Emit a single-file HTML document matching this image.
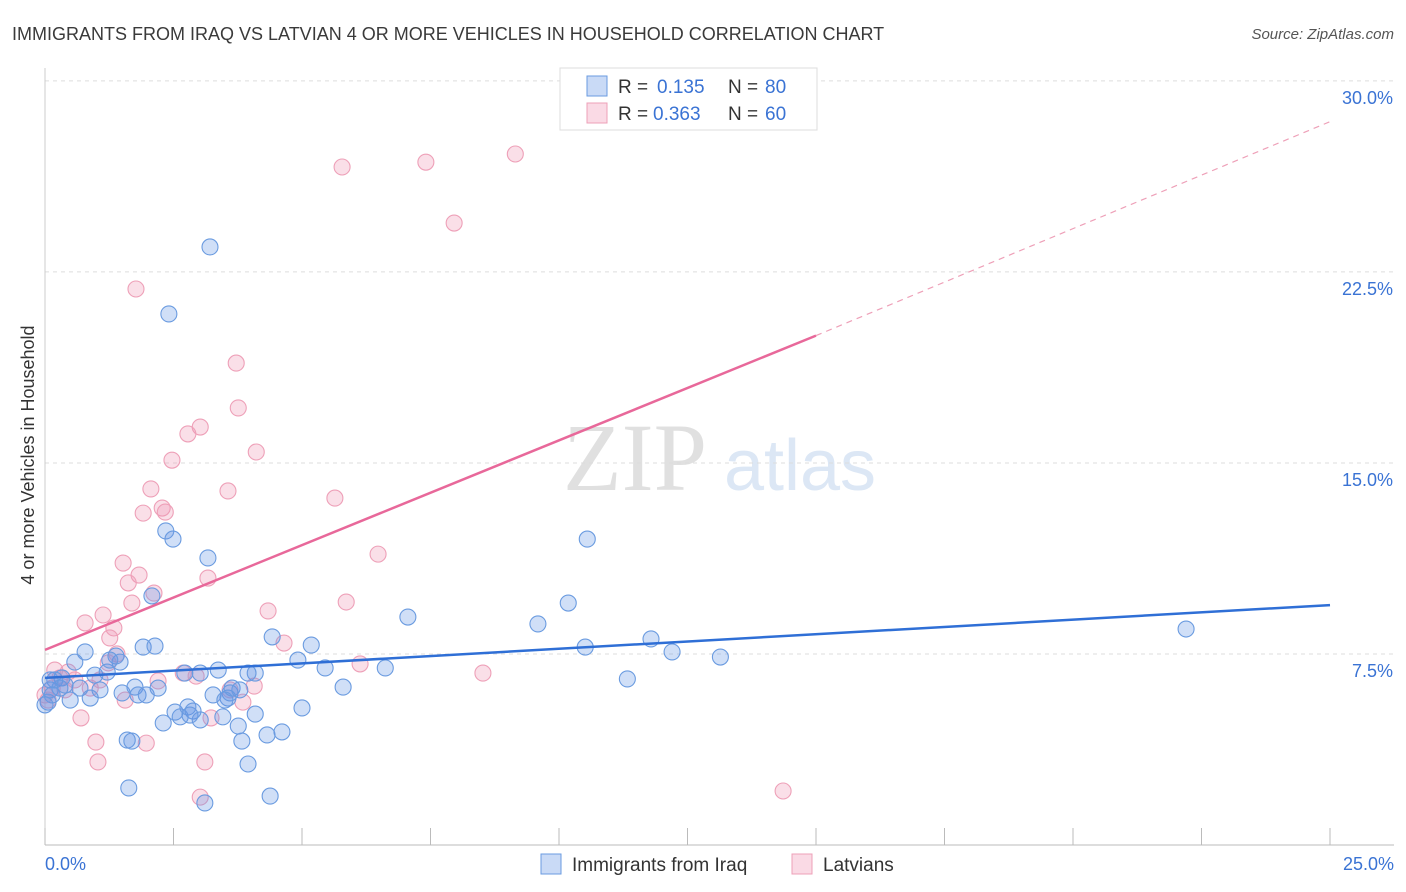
<!DOCTYPE html>
<html><head><meta charset="utf-8"><style>
body{margin:0;background:#fff;font-family:"Liberation Sans",sans-serif;}
svg{display:block}
</style></head><body>
<svg id="chart" width="1406" height="892">
<text x="12" y="40" font-size="18" fill="#3a3a3a">IMMIGRANTS FROM IRAQ VS LATVIAN 4 OR MORE VEHICLES IN HOUSEHOLD CORRELATION CHART</text>
<text x="1394" y="39" font-size="15" fill="#555" font-style="italic" text-anchor="end">Source: ZipAtlas.com</text>
<text x="34" y="455" font-size="18" fill="#333" text-anchor="middle" transform="rotate(-90 34 455)">4 or more Vehicles in Household</text>
<g><text x="635" y="490" font-size="96" fill="#e0e0e0" font-family="Liberation Serif" text-anchor="middle">ZIP</text><text x="800" y="490" font-size="72" fill="#dce7f5" text-anchor="middle">atlas</text></g>
<g id="grid"></g><g id="marks"></g>
<g>
<rect x="560" y="68" width="257" height="62" fill="#fff" stroke="#ddd"/>
<rect x="587" y="76" width="20" height="20" fill="rgba(100,150,230,0.35)" stroke="#6a9be0"/>
<text x="618" y="93" font-size="19" fill="#333">R =</text>
<text x="657" y="93" font-size="19" fill="#3a73d4">0.135</text>
<text x="728" y="93" font-size="19" fill="#333">N =</text>
<text x="765" y="93" font-size="19" fill="#3a73d4">80</text>
<rect x="587" y="103" width="20" height="20" fill="rgba(240,150,180,0.35)" stroke="#eea0b8"/>
<text x="618" y="120" font-size="19" fill="#333">R =</text>
<text x="653" y="120" font-size="19" fill="#3a73d4">0.363</text>
<text x="728" y="120" font-size="19" fill="#333">N =</text>
<text x="765" y="120" font-size="19" fill="#3a73d4">60</text>
</g>
<g>
<rect x="541" y="854" width="20" height="20" fill="rgba(100,150,230,0.35)" stroke="#6a9be0"/>
<text x="572" y="871" font-size="19" fill="#333">Immigrants from Iraq</text>
<rect x="792" y="854" width="20" height="20" fill="rgba(240,150,180,0.35)" stroke="#eea0b8"/>
<text x="823" y="871" font-size="19" fill="#333">Latvians</text>
</g>
</svg>
<script>
const yTicks=[7.5,15,22.5,30];
const yTickLabels=["7.5%","15.0%","22.5%","30.0%"];
const xTickLabels=["0.0%","25.0%"];
const blueX=[3.21,2.41,2.35,2.49,3.17,10.55,10.18,9.59,7.06,22.20,11.79,12.20,13.14,10.51,11.33,2.08,1.91,2.14,4.42,5.18,4.92,5.45,6.62,5.80,4.09,3.95,3.37,3.02,2.72,1.46,1.38,0.78,0.58,0.33,0.19,0.10,0.06,0.49,0.68,0.97,1.07,1.21,1.50,1.75,1.81,1.97,2.20,2.53,2.63,2.78,2.88,2.30,3.27,3.60,3.56,3.64,3.46,3.76,4.09,3.83,3.95,4.32,4.61,5.00,1.60,1.69,1.63,3.11,4.38,0.29,0.14,0.39,0.88,1.26,0,3.02,2.82,3.50,3.79,0.10];
const blueY=[23.48,20.85,12.33,12.01,11.27,12.01,9.50,8.68,8.95,8.48,8.09,7.58,7.38,7.77,6.52,9.78,7.77,7.81,8.17,7.85,7.26,6.95,6.95,6.20,6.75,6.75,6.87,6.75,6.75,7.18,7.42,7.58,7.18,6.56,6.48,6.09,5.61,5.69,6.16,6.67,6.09,6.79,5.97,6.20,5.89,5.89,6.16,5.22,5.03,5.42,5.26,4.79,5.89,5.97,5.77,6.16,5.03,4.67,5.14,4.08,3.18,4.32,4.44,5.38,4.12,4.08,2.24,1.65,1.92,6.16,5.89,6.28,5.77,7.26,5.50,4.91,5.10,5.69,6.09,6.48];
const pinkX=[9.15,7.41,5.78,7.96,1.77,3.72,3.76,3.02,2.78,2.47,4.11,3.56,2.06,2.28,2.34,1.91,5.64,6.48,1.52,1.83,3.17,1.62,2.12,1.69,5.86,4.34,1.13,0.78,1.34,1.26,4.65,1.40,1.23,6.13,8.52,2.69,2.94,2.20,4.07,0.45,0.29,0.58,0.88,0.14,0.06,1.56,3.85,0.70,3.23,0.99,1.97,1.03,3.11,3.02,14.36,0.19,0.39,1.07,3.60,0];
const pinkY=[27.13,26.81,26.62,24.42,21.83,18.92,17.16,16.41,16.14,15.11,15.43,13.90,13.98,13.23,13.07,13.03,13.62,11.42,11.07,10.60,10.48,10.29,9.89,9.50,9.54,9.19,9.03,8.72,8.52,8.13,7.93,7.50,7.15,7.11,6.75,6.75,6.63,6.44,6.24,6.79,6.56,6.48,6.16,6.16,5.69,5.69,5.61,4.99,4.99,4.04,4.00,3.26,3.26,1.88,2.12,6.87,6.09,6.48,6.09,5.89];
const blueTrend=[6.56,9.42];
const pinkTrend=[7.66,20.0,28.4];
const NS="http://www.w3.org/2000/svg";
const X0=45,X1=1330,Y0=845,PXY=25.47;
const xs=v=>X0+(X1-X0)*v/25;
const ys=v=>Y0-v*PXY;
function mk(tag,attrs,parent){const e=document.createElementNS(NS,tag);for(const k in attrs)e.setAttribute(k,attrs[k]);parent.appendChild(e);return e;}
const grid=document.getElementById('grid'),marks=document.getElementById('marks');
yTicks.forEach((t,i)=>{
 const l=mk('line',{x1:X0,x2:1394,y1:ys(t),y2:ys(t),stroke:'#ddd','stroke-dasharray':'4,4'},grid);
 
 
 const tx=mk('text',{x:1393,y:ys(t)+23,'font-size':18,fill:'#3a73d4','text-anchor':'end'},grid);
 tx.textContent=yTickLabels[i];
 
 
});
const ax=mk('line',{x1:X0,x2:1394,y1:Y0,y2:Y0,stroke:'#bbb'},grid);


const ay=mk('line',{x1:X0,x2:X0,y1:68,y2:Y0,stroke:'#ccc'},grid);


for(let i=0;i<=10;i++){const v=i*2.5;const t=mk('line',{x1:xs(v),x2:xs(v),y1:828,y2:Y0,stroke:'#bbb'},grid);
 
 }
[[0,'start',45],[25,'end',1394]].forEach((d,i)=>{const t=mk('text',{x:d[2],y:870,'font-size':18,fill:'#3a73d4','text-anchor':d[1]},grid);t.textContent=xTickLabels[i];
 
 });
function pts(X,Y,fill,stroke,name){X.forEach((x,i)=>{const c=mk('circle',{cx:xs(x),cy:ys(Y[i]),r:8,fill:fill,stroke:stroke,'stroke-width':1.1},marks);
 
 });}
pts(pinkX,pinkY,'rgba(240,150,180,0.3)','#eea0b8','latvian-point');
pts(blueX,blueY,'rgba(100,150,230,0.3)','#6a9be0','iraq-point');
const bl=mk('line',{x1:xs(0),y1:ys(blueTrend[0]),x2:xs(25),y2:ys(blueTrend[1]),stroke:'#2f6fd6','stroke-width':2.5},marks);


const pl=mk('line',{x1:xs(0),y1:ys(pinkTrend[0]),x2:xs(15),y2:ys(pinkTrend[1]),stroke:'#e8689a','stroke-width':2.5},marks);


const pd=mk('line',{x1:xs(15),y1:ys(pinkTrend[1]),x2:xs(25),y2:ys(pinkTrend[2]),stroke:'#eea0b8','stroke-width':1.2,'stroke-dasharray':'6,5'},marks);


</script>
</body></html>
